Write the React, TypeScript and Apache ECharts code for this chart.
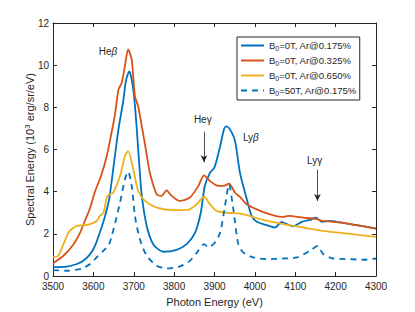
import React, { useEffect, useRef } from "react";
import * as echarts from "echarts";

const xTicks = { min: 3500, max: 4300, step: 100 };
const yTicks = { min: 0, max: 12, step: 2 };

const seriesNames = [
  "B0=0T, Ar@0.175%",
  "B0=0T, Ar@0.325%",
  "B0=0T, Ar@0.650%",
  "B0=50T, Ar@0.175%",
];

const blue0T175: [number, number][] = [
  [3500, 0.42], [3534, 0.44], [3559, 0.57], [3575, 0.72], [3592, 1.04], [3604, 1.43],
  [3616, 2.06], [3629, 2.85], [3639, 3.64], [3649, 5.05], [3662, 6.94], [3674, 8.3],
  [3681, 9.3], [3689, 9.7], [3699, 8.83], [3707, 7.1], [3714, 5.2], [3720, 3.8], [3732, 2.38],
  [3748, 1.51], [3773, 1.15], [3806, 1.24], [3831, 1.51], [3852, 2.06], [3866, 3.0],
  [3876, 4.27], [3889, 4.9], [3900, 5.15], [3914, 6.16], [3924, 7.0], [3930, 7.1],
  [3943, 6.8], [3952, 6.3], [3963, 4.9], [3980, 3.64], [3992, 2.85], [4005, 2.57],
  [4029, 2.41], [4050, 2.3], [4066, 2.57], [4079, 2.46], [4095, 2.35], [4116, 2.57],
  [4137, 2.66], [4151, 2.77], [4166, 2.57], [4186, 2.61], [4211, 2.54], [4252, 2.41],
  [4300, 2.25],
];

const orange0T325: [number, number][] = [
  [3500, 0.61], [3526, 0.96], [3551, 1.51], [3567, 2.06], [3579, 2.61], [3592, 3.24],
  [3604, 4.0], [3620, 4.8], [3633, 5.68], [3645, 6.8], [3654, 7.73], [3662, 8.83],
  [3670, 9.15], [3678, 9.94], [3686, 10.75], [3695, 10.25], [3703, 8.52], [3711, 8.04],
  [3720, 7.1], [3730, 6.0], [3740, 4.9], [3757, 3.87], [3769, 3.8], [3781, 4.06],
  [3794, 3.8], [3814, 3.56], [3839, 3.72], [3860, 4.27], [3874, 4.77], [3889, 4.5],
  [3905, 4.3], [3922, 4.27], [3936, 4.38], [3951, 3.95], [3963, 3.75], [3980, 3.4],
  [4013, 3.09], [4046, 2.88], [4070, 2.8], [4083, 2.85], [4120, 2.77], [4153, 2.7],
  [4169, 2.61], [4211, 2.54], [4252, 2.41], [4300, 2.25],
];

const yellow0T650: [number, number][] = [
  [3500, 0.88], [3513, 0.96], [3526, 1.51], [3538, 2.06], [3546, 2.22], [3559, 2.38],
  [3575, 2.4], [3592, 2.46], [3608, 2.61], [3616, 2.85], [3625, 3.0], [3633, 3.72],
  [3639, 3.87], [3649, 3.95], [3666, 4.74], [3678, 5.68], [3686, 5.92], [3699, 5.05],
  [3711, 4.03], [3728, 3.56], [3757, 3.24], [3798, 3.12], [3831, 3.12], [3856, 3.4],
  [3874, 3.76], [3889, 3.4], [3905, 3.09], [3930, 3.0], [3950, 2.98], [3971, 2.93],
  [4021, 2.66], [4070, 2.46], [4120, 2.3], [4169, 2.14], [4219, 2.03], [4300, 1.86],
];

const dashed50T175: [number, number][] = [
  [3500, 0.28], [3534, 0.25], [3559, 0.3], [3575, 0.38], [3592, 0.57], [3608, 0.88],
  [3625, 1.2], [3639, 1.5], [3654, 2.53], [3666, 3.48], [3678, 4.58], [3686, 4.95],
  [3695, 4.27], [3703, 2.85], [3715, 1.75], [3732, 0.96], [3757, 0.49], [3782, 0.36],
  [3815, 0.46], [3839, 0.72], [3860, 1.2], [3874, 1.51], [3885, 1.36], [3901, 1.59],
  [3914, 2.06], [3926, 3.32], [3936, 4.35], [3946, 3.25], [3959, 1.5], [3971, 1.12],
  [3996, 0.88], [4029, 0.8], [4070, 0.83], [4104, 0.88], [4137, 1.2], [4155, 1.43],
  [4169, 1.04], [4194, 0.83], [4236, 0.8], [4269, 0.77], [4300, 0.83],
];

const annotationLabels: { text: string; at: [number, number] }[] = [
  { text: "{t|He}{g|β}", at: [3636, 10.63] },
  { text: "{t|He}{t|γ}", at: [3871, 7.42] },
  { text: "{t|Ly}{g|β}", at: [3990, 6.57] },
  { text: "{t|Ly}{t|γ}", at: [4148, 5.48] },
];

const annotationArrows: [number, number, number][] = [
  // x, yFrom, yTo
  [3874, 6.85, 5.39],
  [4155, 5.05, 3.56],
];

const colors = ["#0072BD", "#D95319", "#EDB120", "#0072BD"];
const ink = "#262626";
const font = "'Liberation Sans', Arial, Helvetica, sans-serif";

export default function App() {
  const ref = useRef<HTMLDivElement>(null);
  useEffect(() => {
    if (!ref.current) return;
    const chart = echarts.init(ref.current, undefined, { renderer: "svg" });
    const axisCommon = {
      type: "value" as const,
      splitLine: { show: false },
      axisLine: { show: true, onZero: false, lineStyle: { color: ink, width: 1 } },
      axisTick: { show: true, inside: true, length: 4, lineStyle: { color: ink, width: 1 } },
    };
    const datasets = [blue0T175, orange0T325, yellow0T650, dashed50T175];
    const legendRich = {
      n: { fontSize: 9.5, color: ink, fontFamily: font, lineHeight: 13 },
      s: { fontSize: 7, color: ink, fontFamily: font, lineHeight: 13, verticalAlign: "bottom" as const, padding: [5, 0, 0, 0] },
    };
    const plain = (v: number) => String(v);
    chart.setOption({
      animation: false,
      textStyle: { fontFamily: font },
      grid: { left: 53, top: 23, right: 39, bottom: 35 },
      xAxis: [
        {
          ...axisCommon,
          min: xTicks.min,
          max: xTicks.max,
          interval: xTicks.step,
          position: "bottom",
          name: "Photon Energy (eV)",
          nameLocation: "middle",
          nameGap: 20,
          nameMoveOverlap: false,
          nameTextStyle: { fontSize: 11, color: ink, fontFamily: font },
          axisLabel: { fontSize: 10, color: ink, margin: 5, fontFamily: font, formatter: plain },
        },
        {
          ...axisCommon,
          min: xTicks.min,
          max: xTicks.max,
          interval: xTicks.step,
          position: "top",
          axisLabel: { show: false },
        },
      ],
      yAxis: [
        {
          ...axisCommon,
          min: yTicks.min,
          max: yTicks.max,
          interval: yTicks.step,
          position: "left",
          name: "{a|Spectral Energy (10}{b|3}{a| erg/sr/eV)}",
          nameLocation: "middle",
          nameGap: 16,
          nameMoveOverlap: false,
          nameTextStyle: {
            rich: {
              a: { fontSize: 11, color: ink, fontFamily: font, lineHeight: 14 },
              b: { fontSize: 8, color: ink, fontFamily: font, lineHeight: 14, verticalAlign: "top", padding: [0, 0, 5, 0] },
            },
          },
          axisLabel: { fontSize: 10, color: ink, margin: 4, fontFamily: font, formatter: plain },
        },
        {
          ...axisCommon,
          min: yTicks.min,
          max: yTicks.max,
          interval: yTicks.step,
          position: "right",
          axisLabel: { show: false },
        },
      ],
      legend: {
        orient: "vertical",
        left: 237,
        top: 37,
        padding: [3, 3, 3, 3],
        itemGap: 3,
        itemWidth: 23,
        itemHeight: 10,
        backgroundColor: "#fff",
        borderColor: ink,
        borderWidth: 1,
        itemStyle: { opacity: 0 },
        data: seriesNames,
        formatter: (name: string) => {
          const rest = name.slice(2);
          return `{n|B}{s|0}{n|${rest}}`;
        },
        textStyle: { fontSize: 9.5, color: ink, fontFamily: font, rich: legendRich },
      },
      series: datasets.map((d, i) => ({
        name: seriesNames[i],
        type: "line",
        data: d,
        xAxisIndex: 0,
        yAxisIndex: 0,
        showSymbol: false,
        symbol: "none",
        smooth: 0.25,
        lineStyle: {
          color: colors[i],
          width: 1.8,
          type: i === 3 ? [6, 5] : "solid",
        },
        itemStyle: { color: colors[i] },
        z: 2 + i,
        ...(i === 0
          ? {
              markPoint: {
                silent: true,
                symbol: "circle",
                symbolSize: 1,
                itemStyle: { color: "rgba(0,0,0,0)" },
                label: {
                  show: true,
                  position: "inside",
                  color: ink,
                  fontSize: 10,
                  fontFamily: font,
                  rich: {
                    t: { fontSize: 10, color: ink, fontFamily: font },
                    g: { fontSize: 10, color: ink, fontFamily: font, fontStyle: "italic" },
                  },
                },
                data: annotationLabels.map((a) => ({
                  coord: a.at,
                  label: { formatter: a.text },
                })),
              },
              markLine: {
                silent: true,
                symbol: ["none", "arrow"],
                symbolSize: [5, 7],
                lineStyle: { color: ink, width: 0.8, type: "solid" },
                label: { show: false },
                data: annotationArrows.map(([x, y0, y1]) => [
                  { coord: [x, y0] },
                  { coord: [x, y1] },
                ]),
              },
            }
          : {}),
      })),
    });
    return () => chart.dispose();
  }, []);
  return <div ref={ref} style={{ width: 415, height: 312, position: "absolute", left: 0, top: 0 }} />;
}
